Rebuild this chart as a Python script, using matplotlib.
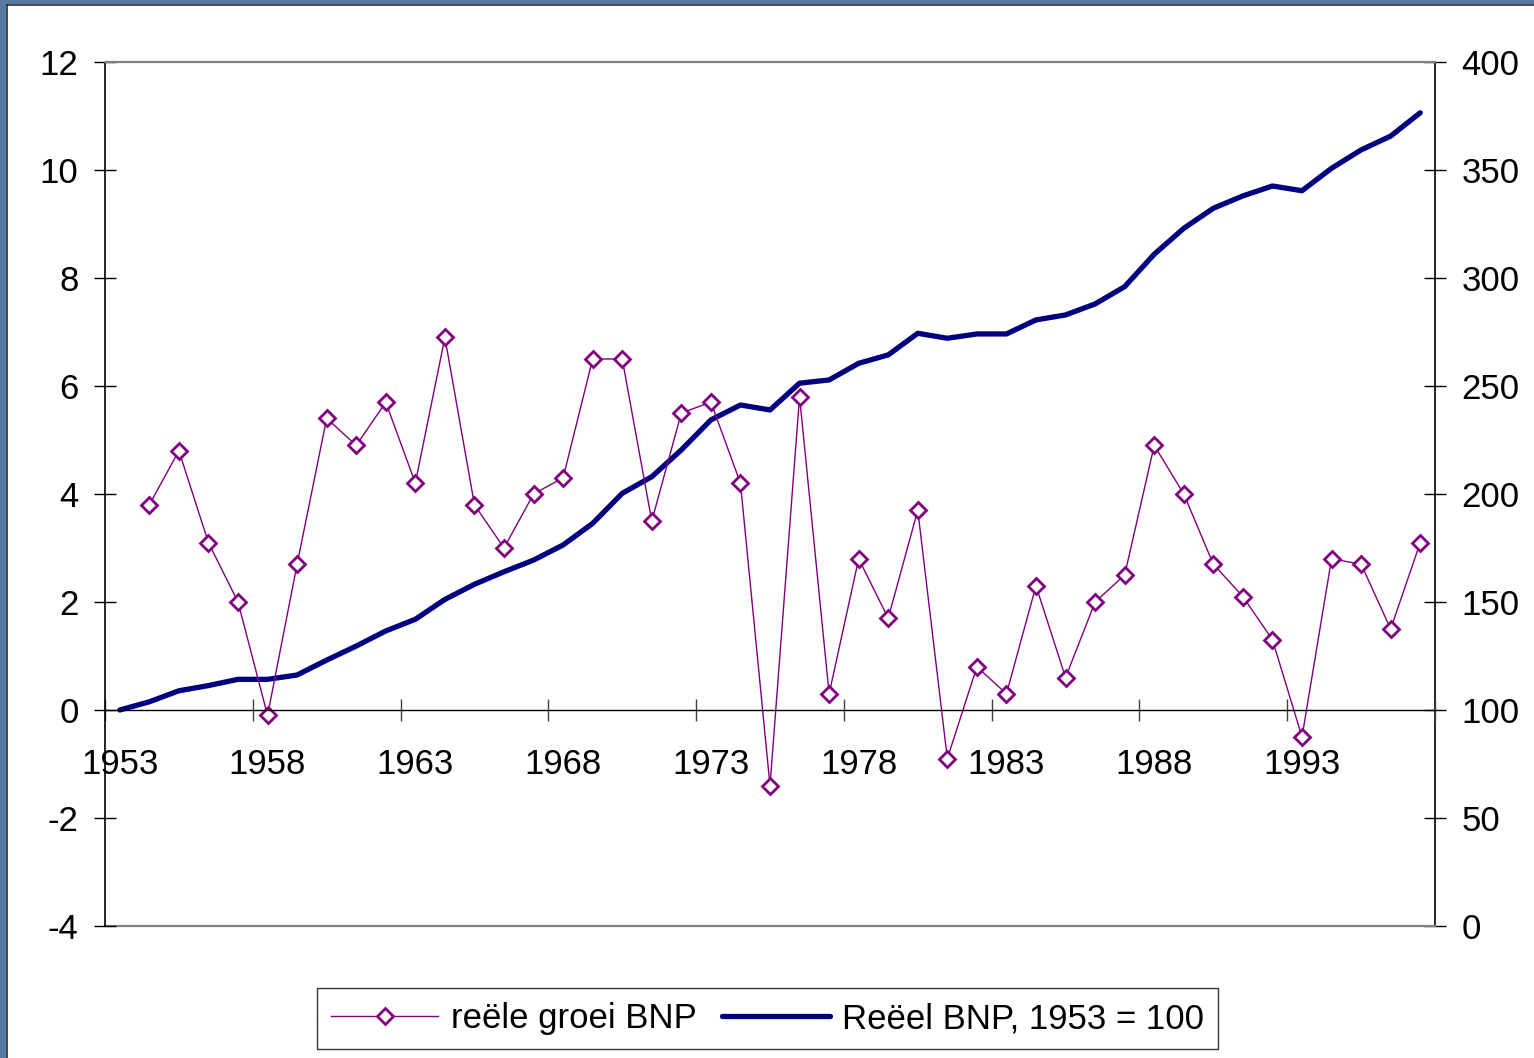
import matplotlib
matplotlib.use('Agg')
import matplotlib.pyplot as plt
import numpy as np
from matplotlib.patches import Rectangle
from matplotlib.lines import Line2D

plt.rcParams['font.family'] = ['Liberation Sans', 'DejaVu Sans']
plt.rcParams['axes.unicode_minus'] = False

# data
years = [1953, 1954, 1955, 1956, 1957, 1958, 1959, 1960, 1961, 1962,
         1963, 1964, 1965, 1966, 1967, 1968, 1969, 1970, 1971, 1972,
         1973, 1974, 1975, 1976, 1977, 1978, 1979, 1980, 1981, 1982,
         1983, 1984, 1985, 1986, 1987, 1988, 1989, 1990, 1991, 1992,
         1993, 1994, 1995, 1996, 1997]

# reele groei BNP (%), left axis - no value for 1953
growth = [np.nan, 3.8, 4.8, 3.1, 2.0, -0.1, 2.7, 5.4, 4.9, 5.7,
          4.2, 6.9, 3.8, 3.0, 4.0, 4.3, 6.5, 6.5, 3.5, 5.5,
          5.7, 4.2, -1.4, 5.8, 0.3, 2.8, 1.7, 3.7, -0.9, 0.8,
          0.3, 2.3, 0.6, 2.0, 2.5, 4.9, 4.0, 2.7, 2.1, 1.3,
          -0.5, 2.8, 2.7, 1.5, 3.1]

# Reeel BNP, 1953 = 100, right axis
bnp = [100.0, 103.8, 108.9, 111.3, 114.2, 114.2, 116.2, 123.1, 129.6, 136.6,
       142.0, 151.2, 158.2, 164.0, 169.4, 176.4, 186.4, 200.3, 208.0, 220.4,
       234.3, 241.2, 238.9, 251.3, 252.8, 260.5, 264.4, 274.4, 272.1, 274.1,
       274.1, 280.6, 282.9, 288.0, 296.0, 311.0, 323.0, 332.3, 338.0, 342.6,
       340.4, 350.8, 359.3, 365.7, 376.5]

label_growth = 'reële groei BNP'
label_bnp = 'Reëel BNP, 1953 = 100'

purple = '#800080'
navy = '#000080'

fig = plt.figure(figsize=(15.34, 10.58), dpi=100)

# bluish slide frame on left and top edge
fig.add_artist(Rectangle((0, 0), 6 / 1534, 1, transform=fig.transFigure,
                         facecolor='#557aa3', edgecolor='none'))
fig.add_artist(Rectangle((0, 1 - 4 / 1058), 1, 4 / 1058, transform=fig.transFigure,
                         facecolor='#557aa3', edgecolor='none'))
fig.add_artist(Line2D([6.5 / 1534, 6.5 / 1534], [0, 1 - 4.5 / 1058], transform=fig.transFigure,
                      color='#2a2a2a', lw=1.2))
fig.add_artist(Line2D([6.5 / 1534, 1], [1 - 4.5 / 1058, 1 - 4.5 / 1058], transform=fig.transFigure,
                      color='#2a2a2a', lw=1.2))

ax = fig.add_axes([105 / 1534, 132 / 1058, 1330 / 1534, 864 / 1058])
ax2 = ax.twinx()
ax.set_zorder(ax2.get_zorder() + 1)
ax.patch.set_visible(False)

x = np.arange(len(years))

ax2.plot(x, bnp, color=navy, lw=3.8, solid_capstyle='round', solid_joinstyle='round')
ax.plot(x, growth, color=purple, lw=1.0, marker='D', ms=8.5, mfc='white',
        mec=purple, mew=2.0)

ax.set_xlim(-0.5, len(years) - 0.5)
ax.set_ylim(-4, 12)
ax2.set_ylim(0, 400)
ax.set_yticks(np.arange(-4, 13, 2))
ax2.set_yticks(np.arange(0, 401, 50))

# tick marks on category boundaries, labels on category centres
ax.set_xticks(np.arange(-0.5, len(years), 5))
ax.set_xticklabels([])
ax.set_xticks(x[::5], minor=True)
ax.set_xticklabels([str(y) for y in years[::5]], minor=True)

ax.tick_params(axis='y', direction='inout', length=16, width=1, labelsize=25, pad=11, colors='black')
ax2.tick_params(axis='y', direction='inout', length=16, width=1, labelsize=25, pad=11, colors='black')
ax.tick_params(axis='x', which='major', direction='inout', length=16, width=1, color='#404040')
ax.tick_params(axis='x', which='minor', length=0, labelsize=25, pad=27)

# spines: x axis on the zero line, grey plot-area border
ax.spines['bottom'].set_position(('data', 0))
ax.spines['bottom'].set_color('black')
ax.spines['bottom'].set_linewidth(1)
ax.spines['top'].set_color('#808080')
ax.spines['top'].set_linewidth(1.6)
ax.spines['right'].set_visible(False)
ax.spines['left'].set_linewidth(1.2)
ax.axhline(-4, color='#808080', lw=1.6, clip_on=False, zorder=1)
for s in ['left', 'top', 'bottom']:
    ax2.spines[s].set_visible(False)
ax2.spines['right'].set_linewidth(1.2)

handles = [Line2D([], [], color=purple, lw=1.0, marker='D', ms=8.5, mfc='white', mec=purple, mew=2.0),
           Line2D([], [], color=navy, lw=3.8, solid_capstyle='round')]
leg = fig.legend(handles, [label_growth, label_bnp], loc='center', bbox_to_anchor=(0.5003, 0.0373),
                 ncol=2, fontsize=25, frameon=True, fancybox=False, edgecolor='black',
                 handlelength=3.1, handletextpad=0.35, columnspacing=0.75, borderpad=0.4)
leg.get_frame().set_linewidth(1)

fig.savefig('out.png', dpi=100)
